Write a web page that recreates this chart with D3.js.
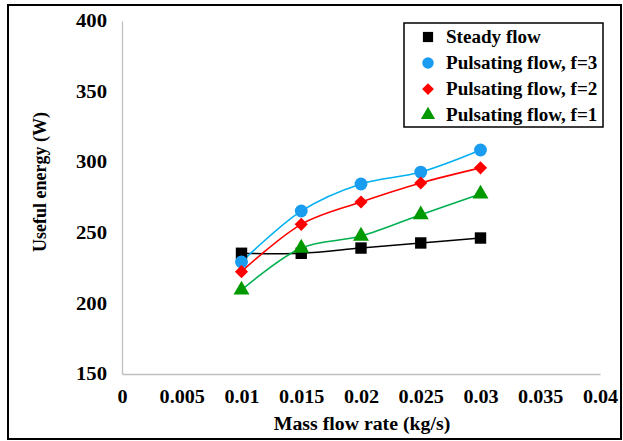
<!DOCTYPE html>
<html>
<head>
<meta charset="utf-8">
<script src="https://cdn.jsdelivr.net/npm/d3@7"></script>
<style>
  body { margin: 0; background: #fff; }
</style>
</head>
<body>
<svg id="chart" width="623" height="441"></svg>
<script>
// data
const massFlow = [0.01, 0.015, 0.02, 0.025, 0.03];
const steadyFlow = [235.5, 235.5, 239.2, 242.8, 246.3];
const pulsatingF3 = [229.3, 265.4, 284.6, 293, 308.6];
const pulsatingF2 = [222.5, 256, 271.8, 285.3, 296];
const pulsatingF1 = [209.5, 239.2, 247.7, 262.8, 277.5];
const xTicks = [0, 0.005, 0.01, 0.015, 0.02, 0.025, 0.03, 0.035, 0.04];
const yTicks = [150, 200, 250, 300, 350, 400];

const series = [
  { name: 'Steady flow', values: steadyFlow, line: '#000000', fill: '#000000', shape: d3.symbolSquare, size: 130 },
  { name: 'Pulsating flow, f=3', values: pulsatingF3, line: '#00b0f0', fill: '#1a9cf0', shape: d3.symbolCircle, size: 130 },
  { name: 'Pulsating flow, f=2', values: pulsatingF2, line: '#ff0000', fill: '#ff0000', shape: d3.symbolDiamond2, size: 110 },
  { name: 'Pulsating flow, f=1', values: pulsatingF1, line: '#00b050', fill: '#009900', shape: d3.symbolTriangle, size: 110 }
];

const FONT = "'Liberation Serif', 'Times New Roman', Times, serif";

// set font, then widen text a little: the source picture is stretched sideways
const styleText = (sel, k) => sel
  .attr('font-family', FONT)
  .attr('font-weight', 'bold')
  .attr('font-size', 18)
  .attr('fill', '#000')
  .each(function () {
    const w = this.getComputedTextLength();
    d3.select(this).attr('textLength', w * k).attr('lengthAdjust', 'spacingAndGlyphs');
  });

const svg = d3.select('#chart');

// outer frame
svg.append('rect')
  .attr('x', 8).attr('y', 5)
  .attr('width', 613).attr('height', 434)
  .attr('fill', 'none').attr('stroke', '#000').attr('stroke-width', 2);

const x = d3.scaleLinear().domain([0, 0.04]).range([122, 600]);
const y = d3.scaleLinear().domain([150, 400]).range([374, 21]);

// axes
const xAxis = svg.append('g')
  .attr('transform', `translate(0,${y(150)})`)
  .call(d3.axisBottom(x).tickValues(xTicks).tickSize(0).tickPadding(16)
    .tickFormat(d => d === 0 ? '0' : String(+d.toFixed(3))));
xAxis.select('.domain').attr('stroke', '#bfbfbf').attr('stroke-width', 1.3);
xAxis.selectAll('text').call(styleText, 1.12);

const yAxis = svg.append('g')
  .attr('transform', `translate(${x(0)},0)`)
  .call(d3.axisLeft(y).tickValues(yTicks).tickSize(0).tickPadding(15));
yAxis.select('.domain').attr('stroke', '#bfbfbf').attr('stroke-width', 1.3);
yAxis.selectAll('text').call(styleText, 1.15);

// axis titles
svg.append('text')
  .attr('x', 362).attr('y', 430)
  .attr('text-anchor', 'middle')
  .text('Mass flow rate (kg/s)')
  .call(styleText, 1.1);

svg.append('text')
  .attr('transform', 'translate(46,182) rotate(-90)')
  .attr('text-anchor', 'middle')
  .text('Useful energy (W)')
  .call(styleText, 1.0);

// smoothed lines
const line = d3.line()
  .x((d, i) => x(massFlow[i]))
  .y(d => y(d))
  .curve(d3.curveCatmullRom.alpha(0.5));

const plot = svg.append('g');
series.forEach(s => {
  plot.append('path')
    .attr('d', line(s.values))
    .attr('fill', 'none')
    .attr('stroke', s.line)
    .attr('stroke-width', 1.6);
});
series.forEach(s => {
  plot.selectAll(null)
    .data(s.values)
    .join('path')
    .attr('transform', (d, i) => `translate(${x(massFlow[i])},${y(d)})`)
    .attr('d', d3.symbol().type(s.shape).size(s.size))
    .attr('fill', s.fill);
});

// legend
const legend = svg.append('g');
legend.append('rect')
  .attr('x', 404).attr('y', 23)
  .attr('width', 199).attr('height', 104)
  .attr('fill', '#fff').attr('stroke', '#000').attr('stroke-width', 1.5);

const legendY = d3.scalePoint().domain(series.map(s => s.name)).range([37, 115]);
series.forEach(s => {
  legend.append('path')
    .attr('transform', `translate(428,${legendY(s.name)})`)
    .attr('d', d3.symbol().type(s.shape).size(s.size * 0.8))
    .attr('fill', s.fill);
  legend.append('text')
    .attr('x', 446).attr('y', legendY(s.name))
    .attr('dy', '0.35em')
    .text(s.name)
    .call(styleText, 1.06);
});
</script>
</body>
</html>
